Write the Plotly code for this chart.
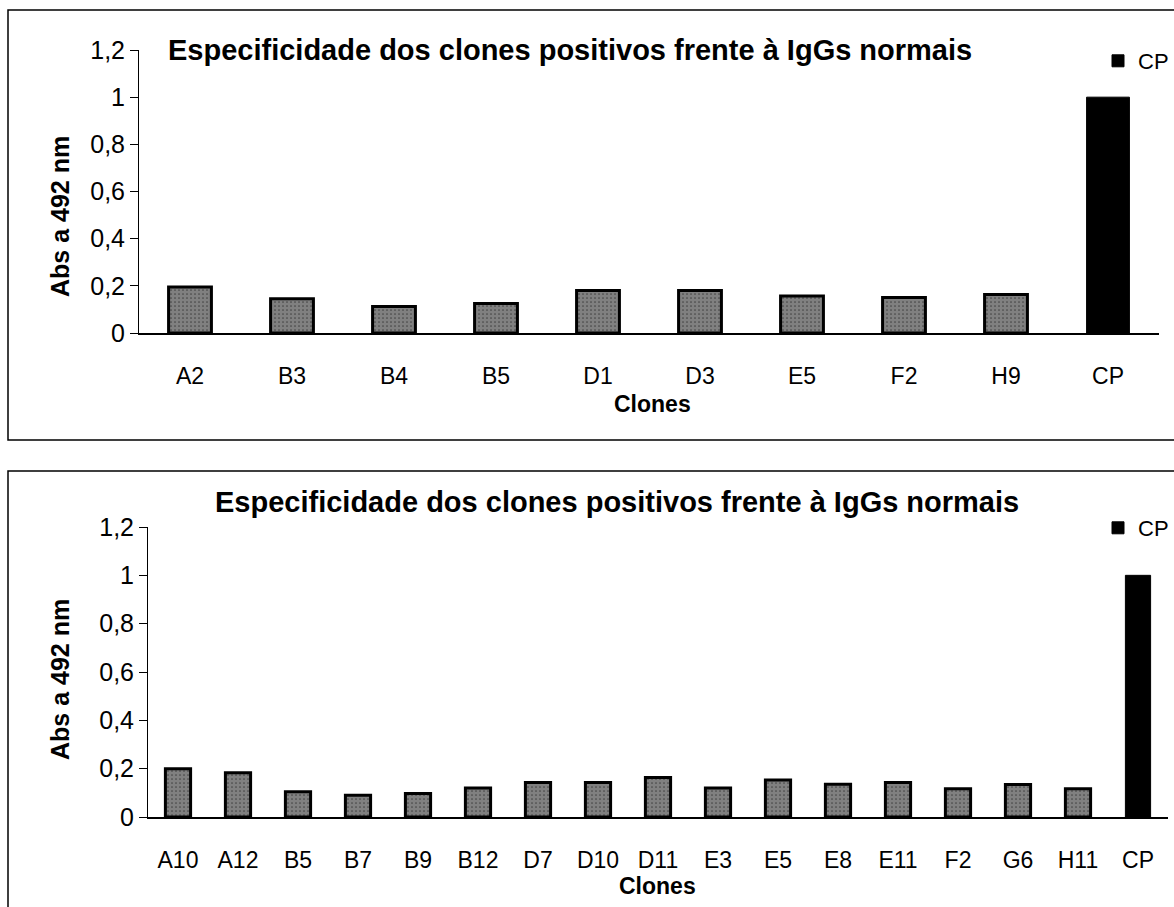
import plotly.graph_objects as go

W, H = 1174, 907

# ---- data ----
clones_top = ["A2", "B3", "B4", "B5", "D1", "D3", "E5", "F2", "H9"]
values_top = [0.195, 0.145, 0.112, 0.125, 0.18, 0.18, 0.157, 0.15, 0.163]
clones_bottom = ["A10", "A12", "B5", "B7", "B9", "B12", "D7", "D10", "D11",
                 "E3", "E5", "E8", "E11", "F2", "G6", "H11"]
values_bottom = [0.2, 0.183, 0.105, 0.09, 0.097, 0.12, 0.143, 0.143, 0.163,
                 0.12, 0.153, 0.136, 0.143, 0.117, 0.135, 0.117]
cp_label = "CP"
cp_top = [1.0]
cp_bottom = [1.0]
y_ticks = [0, 0.2, 0.4, 0.6, 0.8, 1.0, 1.2]
y_ticktext = ["0", "0,2", "0,4", "0,6", "0,8", "1", "1,2"]
title_text = "Especificidade dos clones positivos frente à IgGs normais"
x_title = "Clones"
y_title = "Abs a 492 nm"

FONT = "Liberation Sans, Arial, sans-serif"


def px_x(p):
    return p / W


def px_y(p):
    return 1 - p / H


pattern = dict(shape=".", fgcolor="white", bgcolor="black", size=4, solidity=0.85)

fig = go.Figure()

# top chart
fig.add_trace(go.Bar(x=clones_top, y=values_top, width=0.42,
                     marker=dict(color="black", pattern=pattern, line=dict(color="black", width=3)),
                     showlegend=False, xaxis="x", yaxis="y"))
fig.add_trace(go.Bar(x=[cp_label], y=cp_top, width=0.42, name=cp_label,
                     marker=dict(color="black", line=dict(color="black", width=1)),
                     legend="legend", xaxis="x", yaxis="y"))
# bottom chart
fig.add_trace(go.Bar(x=clones_bottom, y=values_bottom, width=0.42,
                     marker=dict(color="black", pattern=pattern, line=dict(color="black", width=3)),
                     showlegend=False, xaxis="x2", yaxis="y2"))
fig.add_trace(go.Bar(x=[cp_label], y=cp_bottom, width=0.42, name=cp_label,
                     marker=dict(color="black", line=dict(color="black", width=1)),
                     legend="legend2", xaxis="x2", yaxis="y2"))

xcommon = dict(showline=True, linecolor="black", linewidth=2, ticks="", showgrid=False,
               zeroline=False, tickfont=dict(family=FONT, size=23, color="black"),
               ticklabelstandoff=21, automargin=False, fixedrange=True)
ycommon = dict(range=[0, 1.2], tickvals=y_ticks, ticktext=y_ticktext, showline=True,
               linecolor="black", linewidth=1, ticks="outside", ticklen=8, tickcolor="black",
               showgrid=False, zeroline=False, automargin=False,
               tickfont=dict(family=FONT, size=25, color="black"), fixedrange=True)

legend_common = dict(xanchor="right", yanchor="middle", x=1.0,
                     font=dict(family=FONT, size=22, color="black"), itemwidth=30,
                     bgcolor="rgba(0,0,0,0)", borderwidth=0)


def ann(text, x, y, size, angle=0):
    return dict(text=text, x=px_x(x), y=px_y(y), xref="paper", yref="paper",
                xanchor="center", yanchor="middle", showarrow=False, textangle=angle,
                font=dict(family=FONT, size=size, color="black"))


fig.update_layout(
    width=W, height=H,
    margin=dict(l=0, r=0, t=0, b=0, pad=0, autoexpand=False),
    paper_bgcolor="white", plot_bgcolor="rgba(0,0,0,0)",
    barmode="overlay",
    xaxis=dict(domain=[px_x(139), px_x(1159)], anchor="y", **xcommon),
    yaxis=dict(domain=[px_y(333), px_y(50)], anchor="x", **ycommon),
    xaxis2=dict(domain=[px_x(148), px_x(1168)], anchor="y2", **xcommon),
    yaxis2=dict(domain=[px_y(817), px_y(527)], anchor="x2", **ycommon),
    legend=dict(y=px_y(61), **legend_common),
    legend2=dict(y=px_y(528), **legend_common),
    shapes=[
        dict(type="rect", xref="paper", yref="paper", x0=px_x(8), x1=px_x(1190),
             y0=px_y(440), y1=px_y(10), line=dict(color="black", width=1.5)),
        dict(type="rect", xref="paper", yref="paper", x0=px_x(8), x1=px_x(1190),
             y0=px_y(920), y1=px_y(471), line=dict(color="black", width=1.5)),
    ],
    annotations=[
        ann(f"<b>{title_text}</b>", 570, 50, 29),
        ann(f"<b>{title_text}</b>", 617, 502, 29),
        ann(f"<b>{x_title}</b>", 652, 404, 23),
        ann(f"<b>{x_title}</b>", 657, 886, 23),
        ann(f"<b>{y_title}</b>", 60, 217, 25, -90),
        ann(f"<b>{y_title}</b>", 60, 680, 25, -90),
    ],
)

fig.write_html("out.html", config={"displayModeBar": False},
               post_script="document.body.style.margin='0px';")
